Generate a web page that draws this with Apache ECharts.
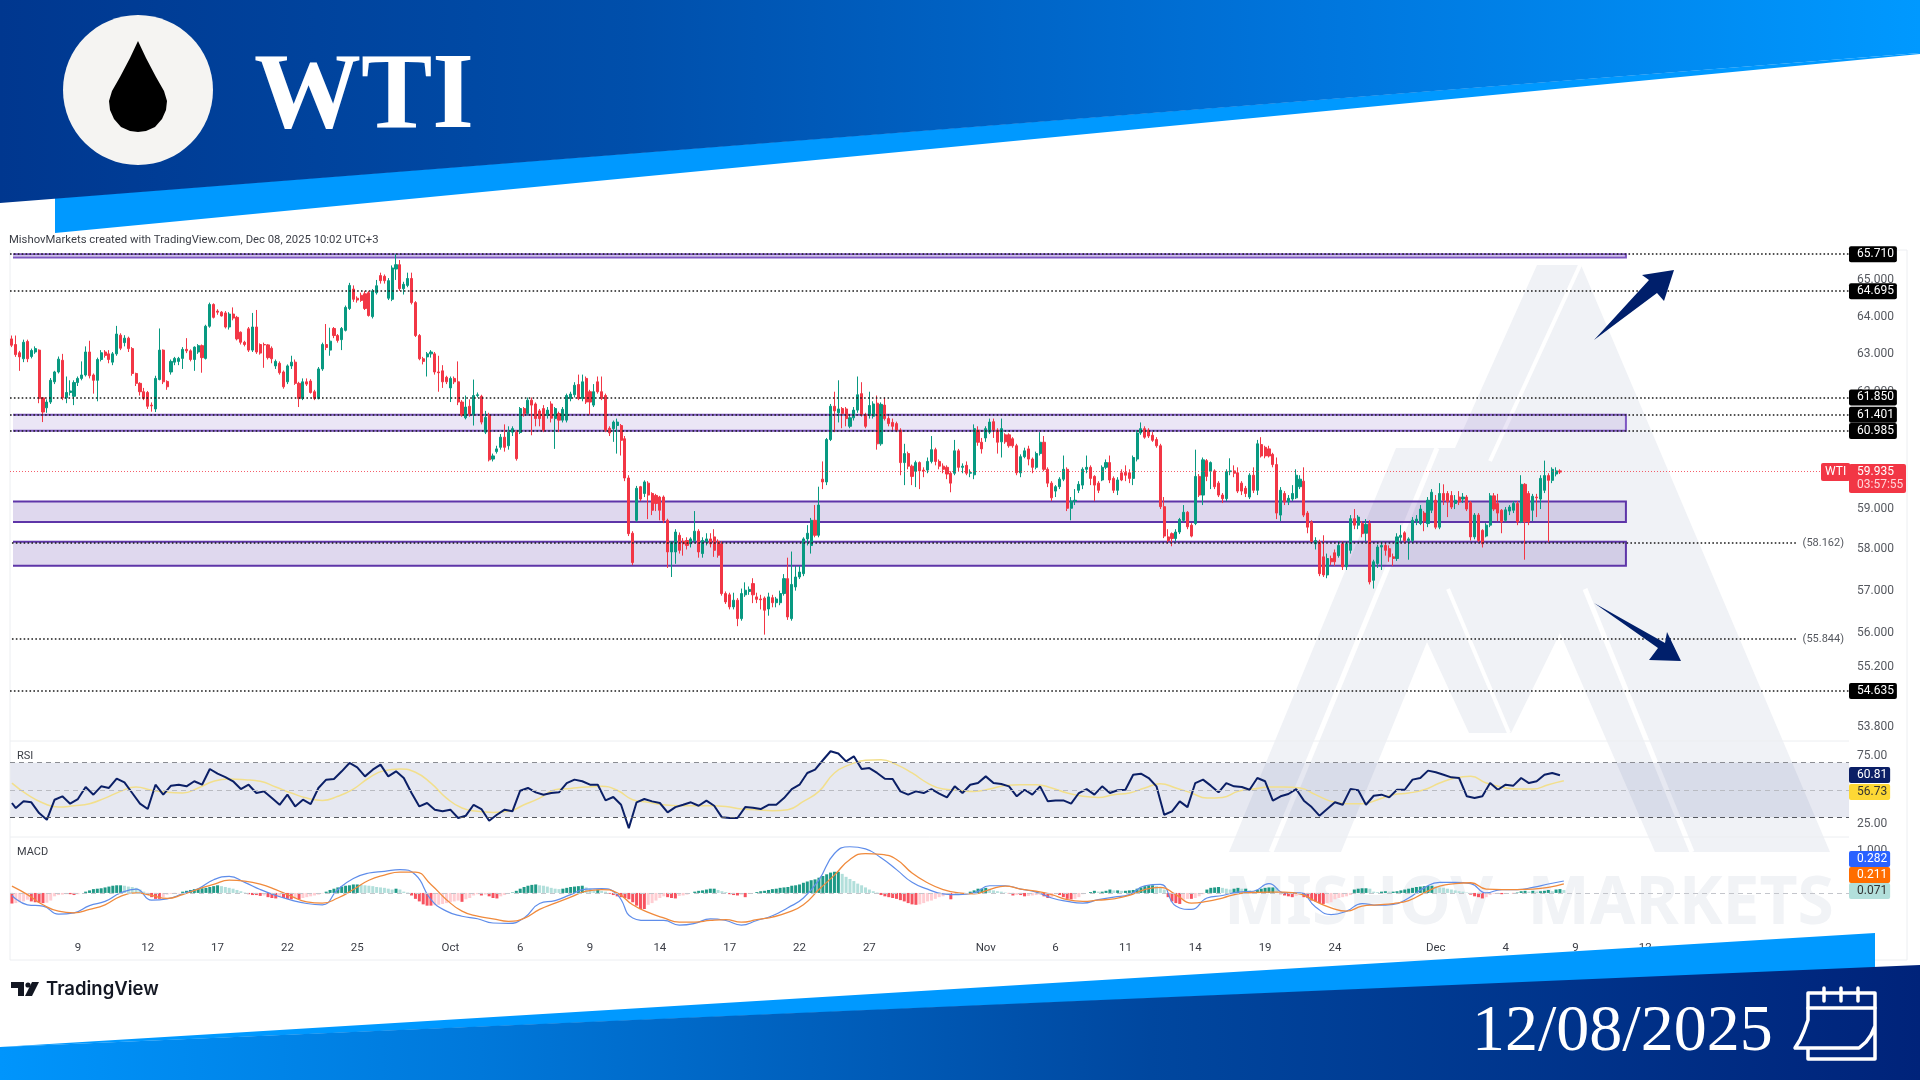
<!DOCTYPE html>
<html lang="en">
<head>
<meta charset="UTF-8">
<title>WTI</title>
<script src="https://cdn.jsdelivr.net/npm/echarts@6/dist/echarts.min.js"></script>
<style>
html,body{margin:0;padding:0;background:#fff}
#chart{width:1920px;height:1080px}
</style>
</head>
<body>
<div id="chart"></div>
<script>
// 4H bars: [open, close, low, high]
const sepBars = [
[63.4,63.23,63.18,63.49],[63.25,62.98,62.92,63.49],[63.03,62.92,62.55,63.08],[62.87,63.31,62.78,63.38],[63.33,62.87,62.78,63.38],[62.93,63.09,62.88,63.14],[63.05,63.14,63.0,63.2],[63.1,61.82,61.7,63.12],[61.84,61.47,61.21,61.86],
[61.58,61.73,61.45,61.8],[61.73,62.3,61.68,62.36],[62.26,62.52,62.2,62.55],[62.52,62.86,62.48,62.93],[62.83,61.84,61.78,63.0],[61.84,61.98,61.7,62.4],[61.98,62.02,61.9,62.3],[61.88,62.24,61.65,62.3],[62.24,62.35,62.15,62.4],[62.35,62.44,62.3,62.8],
[62.44,63.05,62.4,63.2],[63.05,62.42,62.35,63.35],[62.44,62.3,61.95,62.48],[62.3,62.85,61.75,62.9],[62.85,63.03,62.8,63.1],[63.05,62.96,62.9,63.1],[63.0,62.85,62.75,63.1],[62.78,63.0,62.7,63.05],[63.0,63.53,62.95,63.75],[63.5,63.15,63.1,63.55],
[63.3,63.42,63.2,63.5],[63.42,63.14,63.05,63.46],[63.14,62.48,62.42,63.18],[62.48,62.22,62.15,62.5],[62.22,62.0,61.9,62.25],[62.0,61.82,61.78,62.1],[61.98,61.62,61.55,62.02],[61.65,61.63,61.48,61.72],[61.55,62.35,61.47,62.42],[62.32,63.1,62.3,63.68],
[63.1,62.26,62.2,63.12],[62.27,62.13,62.05,62.3],[62.52,62.8,62.45,62.85],[62.78,62.88,62.7,62.92],[62.8,62.88,62.7,62.92],[62.88,63.12,62.6,63.18],[63.12,63.08,63.02,63.42],[63.08,62.85,62.8,63.12],[62.85,63.18,62.55,63.2],[63.05,63.22,63.0,63.26],
[63.22,62.9,62.5,63.25],[62.88,63.74,62.85,63.78],[63.74,64.33,63.7,64.38],[64.33,63.98,63.95,64.36],[64.15,64.12,64.05,64.2],[64.12,64.02,64.0,64.15],[64.1,63.72,63.68,64.15],[63.72,64.07,63.65,64.12],[64.07,63.96,63.9,64.25],[63.98,63.4,63.36,64.02],
[63.58,63.31,63.25,63.6],[63.31,63.25,63.2,63.35],[63.67,63.1,63.05,63.72],[63.1,63.72,63.05,64.1],[63.72,63.05,63.0,64.18],[63.25,63.02,62.98,63.28],[63.25,63.24,62.63,63.3],[63.24,62.9,62.85,63.26],[63.15,62.87,62.75,63.2],[62.68,62.8,62.6,62.85],
[62.75,62.5,62.45,62.8],[62.52,62.13,62.08,62.56],[62.26,62.68,62.2,62.72],[62.68,62.78,62.6,62.95],[62.78,62.22,62.18,62.85],[62.22,61.82,61.6,62.26],[61.82,62.26,61.78,62.35],[62.26,62.2,62.15,62.35],[62.28,61.98,61.95,62.33],[62.0,61.82,61.78,62.05],
[61.82,62.6,61.8,62.65],[62.6,63.25,62.55,63.3],[63.25,63.17,63.1,63.8],[63.1,63.34,62.95,63.7],[63.68,63.49,63.42,63.72],[63.49,63.36,63.3,63.53],[63.38,63.68,63.1,63.72],[63.63,64.25,63.6,64.3],[64.22,64.85,64.18,64.92],[64.75,64.47,64.4,64.85],
[64.5,64.45,64.38,64.55],[64.58,64.44,64.4,64.65],[64.62,64.22,64.18,64.7],[64.65,64.03,64.0,64.7],[64.0,64.7,63.95,64.75],[64.65,64.84,64.6,65.0],[65.12,64.98,64.9,65.2],[65.1,64.98,64.9,65.15],[64.5,64.98,64.45,65.05],[64.47,65.33,64.42,65.4],
[65.3,65.42,65.0,65.71],[65.42,64.76,64.7,65.55],[64.76,64.88,64.6,64.95],[64.85,65.04,64.8,65.2],[65.04,64.38,64.33,65.2],[64.38,63.49,63.45,64.42],[63.49,62.87,62.83,63.53],[62.87,62.8,62.72,62.92],[62.92,63.0,62.4,63.05],[63.0,63.05,62.9,63.1],
[63.0,62.52,62.45,63.05],[62.52,62.5,62.0,62.95],[62.55,62.26,62.1,62.7]
];
const octBars = [
[62.38,62.26,62.2,62.42],[62.1,62.35,61.73,62.4],[62.35,62.26,62.2,62.4],[62.26,61.73,61.65,62.8],[61.73,61.39,61.35,61.78],[61.32,61.6,61.28,61.9],[61.62,61.42,61.35,61.8],[61.4,61.9,61.12,62.32],[61.9,61.92,61.85,61.98],[61.88,61.21,61.15,61.92],
[60.95,61.33,60.9,61.5],[61.39,60.24,60.2,61.45],[60.26,60.34,60.2,60.4],[60.45,60.52,60.4,60.6],[60.56,60.82,60.5,60.9],[60.82,60.56,60.45,61.15],[60.6,60.95,60.5,61.1],[60.95,61.04,60.85,61.1],[60.95,60.27,60.22,61.0],[60.94,61.56,60.9,61.6],
[61.56,61.43,61.35,61.6],[61.43,61.78,61.38,61.85],[61.78,61.65,60.87,61.85],[61.68,61.3,61.1,61.72],[61.5,61.3,61.1,61.55],[61.56,61.0,60.95,61.65],[61.38,61.52,61.3,61.6],[61.68,61.31,61.2,61.75],[61.3,61.56,60.52,61.6],[61.43,61.26,60.95,61.48],
[61.26,61.54,61.2,61.6],[61.26,61.9,61.2,61.95],[61.82,61.94,61.75,62.0],[61.92,62.17,61.85,62.25],[62.19,61.82,61.78,62.45],[61.82,62.26,61.75,62.45],[62.35,61.73,61.68,62.4],[62.0,61.73,61.4,62.05],[61.65,62.0,61.6,62.2],[62.26,62.0,61.95,62.4],
[62.0,61.82,61.78,62.4],[61.9,61.0,60.95,61.95],[61.05,60.93,60.85,61.1],[61.04,61.21,60.7,61.25],[61.12,61.21,60.4,61.3],[61.12,60.74,60.35,61.16],[60.78,59.78,59.7,60.85],[59.78,58.39,58.33,59.85],[58.4,57.68,57.62,58.45],[58.72,59.52,58.68,59.58],
[59.56,59.25,59.2,59.58],[59.39,59.68,59.3,59.72],[59.65,59.35,58.75,59.7],[59.39,58.97,58.85,59.42],[59.34,59.14,58.95,59.38],[59.3,58.97,58.72,59.33],[59.3,58.72,58.65,59.34],[58.72,57.94,57.55,58.76],[57.94,58.18,57.33,58.2],[57.94,58.43,57.65,58.5],
[58.35,57.98,57.9,58.42],[58.2,58.14,57.85,58.28],[58.22,58.1,58.0,58.3],[58.14,58.26,58.05,58.3],[58.22,58.45,58.15,58.95],[58.45,57.94,57.8,58.5],[57.9,58.22,57.8,58.3],[58.2,58.26,58.1,58.4],[58.26,58.14,58.05,58.4],[58.31,57.98,57.82,58.5],
[58.2,57.86,57.8,58.25],[58.14,56.93,56.88,58.2],[56.93,56.73,56.68,56.98],[56.9,56.61,56.55,56.95],[56.61,56.77,56.55,56.95],[56.77,56.33,56.15,56.82],[56.33,56.93,56.28,57.05],[56.9,57.01,56.85,57.2],[56.98,57.03,56.9,57.1],[57.17,56.9,56.7,57.3],
[56.85,56.79,56.7,56.95],[56.8,56.78,56.55,56.9],[56.82,56.53,55.95,56.86],[56.56,56.85,56.4,56.95],[56.83,56.71,56.6,56.9],[56.71,56.8,56.6,56.85],[56.71,56.93,56.65,57.0],[56.93,57.29,56.88,57.4],[57.29,56.37,56.3,57.8],[56.33,57.15,56.28,57.95],
[57.09,57.33,57.0,57.6],[57.33,57.45,57.28,57.6],[57.41,58.26,57.35,58.3],[58.26,58.4,58.1,58.6],[58.1,58.72,57.9,58.78],[58.72,58.35,58.3,59.1],[58.35,59.1,58.3,59.56],[59.75,59.68,59.5,60.2],[59.68,60.76,59.6,60.8],[60.76,61.62,60.72,61.68],
[61.62,61.5,60.95,62.0],[61.45,61.55,61.2,62.3],[61.56,61.43,61.05,61.6],[61.55,61.3,61.1,61.6],[61.1,61.32,61.05,61.4],[61.32,61.52,61.25,61.6],[61.52,61.92,61.45,62.4],[61.95,61.4,61.35,62.25],[61.4,61.1,61.05,61.45],[61.38,61.64,61.3,62.0],
[61.36,61.68,61.3,61.75],[61.7,60.65,60.5,61.9],[60.65,61.67,60.6,61.72],[61.65,61.3,61.25,61.85],[61.3,61.17,61.1,61.36],[61.2,61.1,61.0,61.3],[61.17,61.0,60.95,61.22],[61.0,60.17,59.85,61.05],[60.17,60.4,59.6,60.65],[60.4,60.08,60.0,60.45],
[60.08,59.82,59.6,60.12],[59.95,60.17,59.55,60.22],[60.17,59.96,59.5,60.2],[59.98,59.96,59.8,60.05],[59.98,60.2,59.9,60.3],[60.2,60.5,60.15,60.85],[60.5,60.2,60.1,60.55],[60.2,60.08,60.0,60.25],[60.08,60.0,59.9,60.15],[60.05,59.88,59.75,60.1],
[59.9,59.65,59.42,59.95],[59.9,60.47,59.85,60.75],[60.47,60.05,59.95,60.52],[60.05,60.08,59.9,60.15],[60.1,59.9,59.85,60.2],[59.9,59.92,59.8,60.0],[59.86,61.04,59.75,61.15],[61.0,60.69,60.6,61.1]
];
const novBars = [
[60.69,60.52,60.4,60.8],[60.8,61.04,60.7,61.1],[60.95,61.21,60.9,61.3],[61.22,61.0,60.8,61.3],[61.0,60.69,60.4,61.05],[60.7,61.04,60.3,61.3],[60.88,60.7,60.65,60.92],[60.88,60.6,60.55,60.92],[60.78,60.6,60.55,60.82],[60.6,59.91,59.85,60.65],
[59.91,60.32,59.8,60.38],[60.32,60.47,60.28,60.55],[60.52,60.26,60.1,60.6],[60.26,60.05,59.9,60.3],[60.05,60.4,60.0,60.45],[60.4,60.69,60.35,60.95],[60.69,60.0,59.95,60.85],[60.0,59.65,59.55,60.05],[59.65,59.28,59.2,59.7],[59.45,59.56,59.3,59.6],
[59.56,59.75,59.5,59.8],[59.75,60.0,59.7,60.35],[60.0,59.02,58.95,60.05],[59.02,59.2,58.72,59.3],[59.2,59.22,59.1,59.5],[59.47,59.62,59.4,59.7],[59.6,60.0,59.5,60.05],[60.0,60.05,59.9,60.35],[60.05,59.77,59.6,60.1],[59.82,59.6,59.2,59.85],
[59.65,59.47,59.4,59.7],[59.73,60.05,59.7,60.1],[60.05,60.17,60.0,60.25],[60.17,59.73,59.65,60.35],[59.77,59.47,59.4,59.82],[59.47,59.73,59.35,59.8],[59.91,59.73,59.7,60.0],[59.92,59.85,59.7,60.1],[59.91,59.77,59.65,60.0],[59.77,60.3,59.6,60.35],
[60.26,60.93,60.2,61.0],[60.93,61.04,60.88,61.2],[61.04,60.82,60.78,61.1],[61.0,60.85,60.8,61.05],[60.87,60.74,60.7,60.95],[60.76,60.6,60.55,60.82],[60.6,59.06,59.0,60.65],[59.06,58.33,58.28,59.3],[58.31,58.22,58.15,58.5],[58.39,58.27,58.08,58.42],
[58.27,58.43,58.2,58.5],[58.43,58.74,58.38,58.78],[58.72,58.92,58.68,59.1],[58.92,58.56,58.5,58.95],[58.6,58.33,58.3,58.65],[58.64,59.82,58.6,60.5],[59.82,59.35,59.3,59.88],[59.35,60.24,59.1,60.3],[60.22,59.82,59.7,60.26],[59.95,60.17,59.5,60.2],
[59.96,59.56,59.5,60.0],[59.65,59.35,59.3,59.7],[59.35,59.26,59.15,59.4],[59.26,59.94,59.2,60.0],[59.94,59.96,59.85,60.28],[59.96,59.9,59.8,60.1],[59.91,59.45,59.4,60.05],[59.65,59.45,59.35,59.7],[59.52,59.39,59.3,59.58],[59.3,59.85,59.25,59.9],
[59.85,59.47,59.4,60.05],[59.47,60.65,59.35,60.75],[60.63,60.34,60.3,60.82],[60.56,60.34,60.28,60.6],[60.52,60.34,60.3,60.6],[60.38,60.12,60.05,60.42],[60.12,58.9,58.75,60.3],[58.85,59.47,58.7,59.55],[59.39,59.18,59.1,59.45],[59.18,59.27,59.1,59.35],[59.25,59.39,59.2,59.6],
[59.28,59.85,59.25,60.0],[59.56,59.75,59.5,59.85],[59.7,58.85,58.8,60.05],[58.9,58.55,58.4,58.95],[58.68,58.2,58.15,58.72],[58.14,58.22,58.0,58.3],[58.19,57.41,57.35,58.24],[57.82,57.38,57.33,58.35],[57.38,57.78,57.3,57.9],[57.78,57.7,57.62,57.85],
[57.92,57.7,57.6,58.0],[57.85,58.1,57.8,58.2],[58.14,57.58,57.5,58.2],[57.58,58.14,57.5,58.2],[57.98,58.76,57.9,58.85],[58.76,58.6,58.5,59.0],[58.6,58.8,58.5,58.85],[58.64,58.39,58.3,58.7],[58.4,58.62,58.2,58.75],[58.64,57.21,57.15,58.72],
[57.25,57.7,57.05,57.75],[57.66,58.06,57.55,58.12],[58.06,58.1,57.5,58.2],[58.1,57.98,57.85,58.15],[58.02,57.82,57.7,58.1],[57.82,57.78,57.6,57.9],[57.78,58.31,57.72,58.4],[58.3,58.35,58.2,58.6],[58.41,58.22,58.15,58.45],[58.22,58.26,57.75,58.3],
[58.22,58.72,58.15,58.8],[58.7,58.75,58.6,58.85],[58.64,59.0,58.6,59.1],[58.9,58.7,58.45,58.95],[58.64,59.22,58.55,59.3],[58.97,59.42,58.9,59.5]
];
const decBars = [
[59.22,58.55,58.5,59.35],[58.55,59.39,58.5,59.65],[59.39,59.22,59.1,59.62],[59.39,59.18,58.8,59.45],[59.34,59.05,59.0,59.45],[59.14,59.22,59.0,59.35],[59.3,59.18,59.1,59.45],[59.25,59.3,59.15,59.4],[59.3,59.0,58.95,59.35],[59.16,58.31,58.22,59.2],
[58.31,58.85,58.25,58.9],[58.85,58.22,58.18,58.9],[58.47,58.14,58.05,58.5],[58.33,58.6,58.3,58.65],[58.6,59.33,58.55,59.4],[59.33,59.0,58.95,59.4],[59.14,58.9,58.7,59.38],[58.97,58.68,58.4,59.0],[58.72,58.98,58.68,59.05],[58.95,59.05,58.85,59.1],
[58.97,59.14,58.9,59.2],[59.14,58.68,58.6,59.2],[58.68,59.62,58.65,59.85],[59.62,58.68,57.75,59.65],[59.39,58.68,58.6,59.45],[58.97,59.32,58.7,59.38],[59.3,59.28,58.8,59.38],[59.25,59.77,59.0,59.85],[59.47,59.84,59.4,60.22],[59.84,59.72,58.18,59.9],
[59.72,60.0,59.65,60.05],[59.88,59.96,59.82,60.05],[59.96,59.93,59.88,60.0]
];

// price panel: tick labels, horizontal levels, boxes
const priceTicks = [65, 64, 63, 62, 59, 58, 57, 56, 55.2, 53.8];
const blackLevels = [65.71, 64.695, 61.85, 61.401, 60.985, 54.635];
const openLevels = [58.162, 55.844];
const lastPrice = 59.935;
const lightZones = [[65.71, 65.62], [61.401, 60.985]];
const darkZones = [[59.19, 58.68], [58.19, 57.6]];

// RSI, one reading every 2 bars
const rsiValues = [
40.5,36.8,41.7,41,33.1,28.2,42.9,45.4,40,43.4,52.2,46.6,52.7,51.5,58.3,55.6,47.8,40,36.1,53.9,46.6,53.2,53.9,52.7,56.4,53.9,65.4,62,59.5,56.4,50.7,53.9,47.8,49,44.1,39.2,46.6,38,42.9,39.7,51.5,57.6,58.1,63.7,69.8,66.6,60,64.9,68.6,60,63.7,58.8,47.8,38,40.5,35.6,34.4,35.6,29.5,31.2,39.2,36.1,27.5,31.9,35.6,34.4,49.5,51.5,48.3,46.6,47.8,48.3,55.1,57.6,56.4,53.9,53.9,42.4,44.9,39.2,22.1,41,
43.4,41.7,40.5,33.6,37.5,39.2,41,38.5,42.2,38.5,30,29.5,29.5,37.5,37,36.1,39.2,39.2,44.1,50.7,53.9,62.5,64.9,71.8,78.4,76.7,71,74.7,65.4,66.1,62.5,58.3,58.1,49,46.6,49,47.8,50.7,47.3,44.6,52.7,47.8,53.9,55.1,60,55.1,54.4,52.7,45.4,50.2,46.6,52.7,41.7,42.4,42.4,40,47.8,50.7,46.6,52.7,47.8,49.8,50.2,61.2,62,58.8,52.7,31.9,34.4,41.7,37.5,55.1,57.6,53.2,48.3,55.1,52.7,52.2,50.2,58.8,56.4,
42.2,45.4,47.1,50.7,42.2,37.5,31.2,36.1,41,39.2,50.7,49.8,39.2,45.8,46.6,44.6,50.2,50.2,57.6,58.8,64.2,63,61.2,59.3,58.8,45.4,44.1,45.4,55.1,50.2,53.9,53.2,58.8,55.1,56.4,61.2,62.5,60.81
];
// RSI average, one reading every 4 bars
const rsiAverage = [
55.1,46.6,40.5,37.5,38.5,40,44.1,49,52.2,49.8,48.3,47.8,51.5,56.4,58.1,57.6,56.4,52.2,47.8,44.1,42.4,45.4,50.7,58.8,64.2,65.4,63,55.1,44.1,36.8,34.4,33.6,34.4,39.2,44.1,50.2,51.2,52.2,52.7,49.8,42.9,
41,39.2,38.5,38.5,38.5,38,36.1,35.6,34.8,35.6,41.7,49,62.5,68.6,71.8,72.2,68.6,62.5,55.1,50.7,49.8,49,50.7,53.4,53.9,53.9,51.5,47.8,45.4,44.6,46.6,47.8,51.5,54.6,51.5,47.8,44.1,44.6,49,50.7,52.2,
52.2,51.5,46.6,41.7,40,40,42.9,46.6,47.8,50.2,55.1,58.8,60,55.1,52.2,50.7,50.7,53.9,56.73
];
// MACD and signal, one reading every 4 bars
const macdLine = [
-.06,-.28,-.31,-.5,-.47,-.3,-.2,0,.09,-.17,-.14,-.02,.1,.31,.39,.25,.08,-.06,-.17,-.25,-.28,.08,.34,.47,.51,.55,.43,-.16,-.43,-.55,-.61,-.71,-.72,-.59,-.25,-.18,-.04,.09,.1,-.04,-.59,
-.65,-.65,-.76,-.72,-.61,-.65,-.76,-.65,-.54,-.35,-.12,.31,.93,1.09,1.04,.83,.55,.25,.09,-.02,-.04,0,.17,.17,.09,.02,-.12,-.2,-.24,-.16,-.1,-.04,.17,.2,-.31,-.39,-.12,-.06,.02,.04,.22,
0,0,-.33,-.51,-.43,-.25,-.29,-.27,-.12,.12,.25,.25,.22,0,.08,.08,.13,.21,.282
];
const macdSignal = [
.16,-.04,-.28,-.43,-.47,-.39,-.28,-.08,0,-.06,-.13,-.04,.09,.2,.3,.28,.21,.08,-.08,-.21,-.24,-.12,.08,.3,.42,.49,.49,.2,-.16,-.43,-.55,-.61,-.67,-.6,-.39,-.24,-.1,.04,.08,0,-.28,
-.46,-.59,-.69,-.69,-.65,-.63,-.69,-.63,-.57,-.46,-.28,.08,.42,.79,.93,.91,.79,.47,.24,.08,0,-.02,.08,.16,.09,.04,-.04,-.16,-.2,-.17,-.14,-.06,.08,.13,-.04,-.24,-.2,-.12,-.02,.01,.02,
.02,-.02,-.2,-.35,-.43,-.31,-.28,-.25,-.18,0,.16,.22,.24,.09,.08,.08,.09,.13,.211
];
// MACD histogram, one per bar
const macdHist = [
-.25,-.24,-.22,-.2,-.16,-.2,-.22,-.23,-.24,-.23,-.18,-.08,-.05,-.04,-.03,-.03,-.05,-.03,0,.03,.06,.09,.1,.11,.13,.15,.17,.18,.18,.17,.15,.14,.12,.08,.03,-.05,-.1,-.14,-.14,-.1,-.04,-.02,-.02,-.01,.03,.05,.07,.09,.1,.11,.12,.14,.16,.18,.16,.14,.12,.1,.07,.04,.01,-.03,-.05,-.05,-.07,-.06,-.1,-.12,-.13,-.1,-.12,-.14,-.15,-.13,-.15,-.12,-.1,-.08,-.06,-.04,-.01,.03,.07,.1,.13,.15,.17,.18,.2,.2,.19,.18,.17,.16,.14,.13,.12,.1,.08,.1,.08,.03,.01,-.06,-.14,-.2,-.27,-.3,-.3,-.29,-.28,-.26,-.24,-.22,-.2,-.18,-.21,-.15,-.12,-.06,-.03,-.06,-.04,-.08,-.12,-.13,-.08,-.05,-.02,.01,.05,.1,.14,.17,.19,.2,.18,.17,.15,.12,.1,.09,.1,.12,.14,.15,.16,.17,.13,.1,.06,.08,.05,.03,-.02,-.05,-.08,-.1,-.12,-.15,-.22,-.3,-.38,-.38,
-.28,-.24,-.18,-.12,-.08,-.1,-.12,-.13,-.07,-.06,-.04,0,.03,.05,.06,.08,.1,.1,.07,.04,.02,-.03,-.05,-.06,-.04,-.1,-.02,0,.02,.04,.05,.07,.09,.1,.12,.13,.14,.17,.18,.2,.24,.27,.3,.32,.36,.4,.44,.48,.5,.5,.45,.38,.33,.28,.22,.18,.13,.08,.04,.01,-.05,-.08,-.1,-.12,-.14,-.17,-.2,-.24,-.27,-.28,-.27,-.24,-.2,-.18,-.14,-.1,-.08,-.05,-.15,-.03,-.02,-.01,0,.03,.06,.1,.1,.12,.1,.06,.04,.03,.01,-.01,-.06,-.05,-.05,-.08,-.07,-.06,-.05,-.04,-.08,-.12,-.1,-.03,-.05,-.1,-.14,-.15,-.14,-.1,-.03,0,.02,.05,.03,.03,.05,.08,.06,.06,.05,.05,.06,.07,.1,.13,.16,.18,.18,.16,.14,.08,-.1,-.2,-.24,-.26,-.16,-.14,-.14,-.12,-.08,-.03,.08,.12,.13,.14,.12,.1,.08,.1,.12,.1,.1,.06,.04,.07,.1,.12,.13,.13,.12,-.03,
-.06,-.08,-.1,-.07,-.05,-.1,-.12,-.18,-.2,-.24,-.26,-.24,-.22,-.15,-.12,-.1,-.08,-.05,.08,.1,.11,.11,.1,.03,.02,.03,.04,.03,.03,.04,.06,.08,.1,.12,.14,.15,.16,.17,.17,.15,.13,.12,.1,.08,.06,.04,.03,.01,-.04,-.08,-.1,-.13,-.1,-.05,-.02,-.02,-.03,-.02,0,-.01,.01,.04,.05,.03,.05,.03,.04,.05,.07,.04,.08,.09,.07
];

// time axis
const tickIndex = [17, 35, 53, 71, 89, 113, 131, 149, 167, 185, 203, 221, 251, 269, 287, 305, 323, 341, 367, 385, 403, 421];
const tickLabels = ['9', '12', '17', '22', '25', 'Oct', '6', '9', '14', '17', '22', '27', 'Nov', '6', '11', '14', '19', '24', 'Dec', '4', '9', '12'];
const SLOTS = 474;

const bars = sepBars.concat(octBars, novBars, decBars);
const categories = [];
for (let i = 0; i < SLOTS; i++) {
    const k = tickIndex.indexOf(i);
    categories.push(k >= 0 ? tickLabels[k] : '');
}
const everyFour = arr => arr.map((v, i) => [i * 4, v]);
const everyTwo = arr => arr.map((v, i) => [Math.max(0, i * 2 - 1), v]);

const UP = '#089981', DOWN = '#f23645';
const TEXT = '#3a3d45';
const FONT = 'Roboto';
const LEVEL_LINE = {color: '#1a1a1a', width: 1.6, type: [1.6, 2.3]};

function histColor(p) {
    const v = macdHist[p.dataIndex], prev = macdHist[p.dataIndex - 1] || 0;
    if (v >= 0) return v >= prev ? '#1f9a87' : '#b2dfdb';
    return v <= prev ? '#f7525f' : '#ffcdd2';
}

// labels of the right-hand scale, drawn through the axis of each panel
function scaleLabels(values, digits) {
    return values.map(v => ({
        name: v.toFixed(digits), yAxis: v,
        lineStyle: {color: 'rgba(0,0,0,0)', width: 0},
        label: {position: 'end', distance: 8, formatter: '{b}', color: '#55585f', fontFamily: FONT, fontSize: 12, padding: [2, 0, 0, 0]}
    }));
}
function blackLevel(v) {
    return {
        name: v.toFixed(3), yAxis: v,
        lineStyle: LEVEL_LINE,
        label: {position: 'end', distance: 0, formatter: '{b}', color: '#fff', backgroundColor: '#000', fontFamily: FONT, fontSize: 12, padding: [3, 3, 1, 8], borderRadius: 2}
    };
}
function openLevel(v) {
    return [
        {name: '(' + v.toFixed(3) + ')', xAxis: 0, yAxis: v, lineStyle: LEVEL_LINE,
            label: {position: 'end', distance: 6, formatter: '{b}', color: '#55585f', fontFamily: FONT, fontSize: 11, padding: [2, 0, 0, 0]}},
        {xAxis: 460, yAxis: v}
    ];
}
function zone(z, fill, edge, w) {
    return [
        {yAxis: z[0], xAxis: 0, itemStyle: {color: fill, borderColor: edge, borderWidth: w}},
        {yAxis: z[1], xAxis: 416}
    ];
}
function tag(x, y, text, fill, color, z) {
    return {
        type: 'text', x: x, y: y, z: z || 60,
        style: {text: text, font: '12px ' + FONT, fill: color, backgroundColor: fill, padding: [2, 3, 2, 8], borderRadius: 2, verticalAlign: 'middle'}
    };
}
function whiteSlash(x1, y1, x2, y2, w) {
    return {type: 'line', z: 0, shape: {x1, y1, x2, y2}, style: {stroke: '#fff', lineWidth: w}};
}
function rule(x1, y1, x2, y2) {
    return {type: 'line', z: 2, shape: {x1, y1, x2, y2}, style: {stroke: '#eceef1', lineWidth: 1}};
}
function calendarLine(points) {
    return {type: 'polyline', z: 73, shape: {points: points}, style: {fill: 'none', stroke: '#fff', lineWidth: 3.5, lineCap: 'round', lineJoin: 'round'}};
}

const graphics = [
    // watermark under the chart
    {type: 'polygon', z: 0, shape: {points: [[1229,852],[1396,448],[1455,448],[1537,265],[1581,265],[1830,852],[1655,852],[1560,633],[1511,733],[1469,733],[1427,642],[1341,852]]}, style: {fill: '#f0f2f6'}},
    whiteSlash(1271, 852, 1437, 448, 5),
    whiteSlash(1581, 263, 1490, 461, 4),
    whiteSlash(1448, 589, 1509, 733, 4),
    whiteSlash(1585, 589, 1692, 852, 5),
    {type: 'text', z: 0, x: 1224, y: 905, style: {text: 'MISHOV  MARKETS', font: 'bold 66px "Noto Sans"', fill: '#f1f3f6', verticalAlign: 'middle'}},
    // the zones run off the left edge of the pane, so no end stroke there
    {type: 'rect', z: 1.5, shape: {x: 7, y: 250, width: 6, height: 320}, style: {fill: '#fff'}},
    // panel rules
    rule(10, 741, 1849, 741), rule(10, 837, 1849, 837), rule(10, 250, 10, 960), rule(10, 960, 1907, 960), rule(1907, 250, 1907, 960), rule(1849, 250, 1907, 250),
    {type: 'text', z: 10, x: 9, y: 240, style: {text: 'MishovMarkets created with TradingView.com, Dec 08, 2025 10:02 UTC+3', font: '11.3px ' + FONT, fill: '#3a3d45', verticalAlign: 'middle'}},
    {type: 'text', z: 10, x: 17, y: 756, style: {text: 'RSI', font: '11px ' + FONT, fill: TEXT, verticalAlign: 'middle'}},
    {type: 'text', z: 10, x: 17, y: 852, style: {text: 'MACD', font: '11px ' + FONT, fill: TEXT, verticalAlign: 'middle'}},
    // arrows
    {type: 'polygon', z: 50, shape: {points: [[1594,340],[1649,280],[1642,275],[1674,270],[1664,301],[1657,293]]}, style: {fill: '#001f6b'}},
    {type: 'polygon', z: 50, shape: {points: [[1594,603],[1665,643],[1667,632],[1681,661],[1649,660],[1658,648]]}, style: {fill: '#001f6b'}},
    // current price tags and panel value tags
    {type: 'text', z: 60, x: 1821, y: 472, style: {text: 'WTI', font: '12px ' + FONT, fill: '#fff', backgroundColor: DOWN, padding: [3, 4, 3, 4], borderRadius: 2, verticalAlign: 'middle'}},
    {type: 'rect', z: 60, shape: {x: 1849, y: 464, width: 57, height: 29, r: 2}, style: {fill: DOWN}},
    {type: 'text', z: 61, x: 1857, y: 472, style: {text: lastPrice.toFixed(3), font: '12px ' + FONT, fill: '#fff', verticalAlign: 'middle'}},
    {type: 'text', z: 61, x: 1857, y: 485, style: {text: '03:57:55', font: '12px ' + FONT, fill: '#ffd5d9', verticalAlign: 'middle'}},
    tag(1849, 775, '60.81', '#0b1f66', '#fff'),
    tag(1849, 792, '56.73', '#fdd835', '#333'),
    tag(1849, 859, '0.282', '#2962ff', '#fff'),
    tag(1849, 875, '0.211', '#ff6d00', '#fff'),
    tag(1849, 891, '0.071', '#b2dfdb', '#333'),
    // TradingView mark
    {type: 'polygon', z: 10, shape: {points: [[11,982],[24,982],[24,996],[18,996],[18,988],[11,988]]}, style: {fill: '#131722'}},
    {type: 'polygon', z: 10, shape: {points: [[32,982],[39,982],[32,996],[25,996]]}, style: {fill: '#131722'}},
    {type: 'circle', z: 10, shape: {cx: 28, cy: 985, r: 2.6}, style: {fill: '#131722'}},
    {type: 'text', z: 10, x: 46, y: 989, style: {text: 'TradingView', font: '600 18.5px Inter', fill: '#131722', verticalAlign: 'middle'}},
    // top banner
    {type: 'polygon', z: 70, shape: {points: [[55,198],[1920,53],[1920,54],[55,233]]}, style: {fill: '#0099ff'}},
    {type: 'polygon', z: 71, shape: {points: [[0,0],[1920,0],[1920,53],[0,203]]}, style: {fill: {type: 'linear', x: 0, y: 0, x2: 1, y2: 0, colorStops: [{offset: 0, color: '#00378f'}, {offset: 0.33, color: '#004fab'}, {offset: 0.68, color: '#0075dc'}, {offset: 1, color: '#0099ff'}]}}},
    {type: 'ellipse', z: 72, shape: {cx: 138, cy: 90, rx: 75, ry: 75}, style: {fill: '#f5f4f2'}},
    {type: 'polygon', z: 73, shape: {points: [[138,41],[130,58],[120,77],[112,91],[109,101],[110,110],[114,119],[121,127],[130,131],[138,132],[146,131],[155,127],[162,119],[166,110],[167,101],[164,91],[156,77],[146,58]]}, style: {fill: '#000'}},
    {type: 'text', z: 73, x: 254, y: 99, style: {text: 'WTI', font: 'bold 107px "Liberation Serif"', fill: '#fff', verticalAlign: 'middle'}},
    // bottom banner
    {type: 'polygon', z: 70, shape: {points: [[0,1047],[1875,933],[1875,968]]}, style: {fill: '#0099ff'}},
    {type: 'polygon', z: 71, shape: {points: [[0,1047],[1920,965],[1920,1080],[0,1080]]}, style: {fill: {type: 'linear', x: 0, y: 0, x2: 1, y2: 0, colorStops: [{offset: 0, color: '#0095fc'}, {offset: 0.25, color: '#0078da'}, {offset: 0.6, color: '#00479f'}, {offset: 1, color: '#00237a'}]}}},
    {type: 'text', z: 73, x: 1472, y: 1033, style: {text: '12/08/2025', font: '66px "Liberation Serif"', fill: '#fff', verticalAlign: 'middle'}},
    calendarLine([[1808,1048],[1808,1059],[1875,1059],[1875,993],[1808,993],[1808,1020],[1804,1031],[1800,1040],[1795,1048],[1859,1048],[1866,1042],[1871,1035],[1875,1026]]),
    calendarLine([[1808,1008],[1875,1008]]),
    calendarLine([[1824,988],[1824,1001]]),
    calendarLine([[1841,988],[1841,1001]]),
    calendarLine([[1858,988],[1858,1001]])
];

const option = {
    backgroundColor: '#fff',
    animation: false,
    textStyle: {fontFamily: FONT},
    grid: [
        {left: 10, right: 71, top: 251, height: 490},
        {left: 10, right: 71, top: 741, height: 96},
        {left: 10, right: 71, top: 837, height: 100}
    ],
    xAxis: [0, 1, 2].map(g => ({
        type: 'category', gridIndex: g, data: categories, boundaryGap: true,
        axisLine: {show: false}, axisTick: {show: false}, splitLine: {show: false},
        axisLabel: g === 2
            ? {show: true, interval: 0, margin: 5, color: TEXT, fontFamily: FONT, fontSize: 11.5, hideOverlap: false}
            : {show: false}
    })),
    yAxis: [
        {type: 'log', logBase: Math.E, gridIndex: 0, min: 53.49, max: 65.8, axisLine: {show: false}, axisTick: {show: false}, axisLabel: {show: false}, splitLine: {show: false}},
        {type: 'value', gridIndex: 1, min: 15.6, max: 85.9, axisLine: {show: false}, axisTick: {show: false}, axisLabel: {show: false}, splitLine: {show: false}},
        {type: 'value', gridIndex: 2, min: -1.04, max: 1.32, axisLine: {show: false}, axisTick: {show: false}, axisLabel: {show: false}, splitLine: {show: false}}
    ],
    series: [
        {
            type: 'candlestick', name: 'WTI', xAxisIndex: 0, yAxisIndex: 0, data: bars, barWidth: 2.6, clip: false,
            itemStyle: {color: UP, color0: DOWN, borderColor: UP, borderColor0: DOWN, borderWidth: 1},
            markArea: {
                silent: true,
                data: lightZones.map(z => zone(z, 'rgba(103,58,183,0.13)', '#7e57c2', 2)).concat(darkZones.map(z => zone(z, 'rgba(80,40,160,0.18)', '#5e35a8', 2)))
            },
            markLine: {
                silent: true, symbol: 'none', animation: false,
                data: scaleLabels(priceTicks, 3).concat(
                    [{yAxis: lastPrice, lineStyle: {color: DOWN, width: 0.8, type: [1, 2]}, label: {show: false}}],
                    openLevels.map(openLevel),
                    blackLevels.map(blackLevel)
                )
            }
        },
        {
            type: 'line', name: 'RSI', xAxisIndex: 1, yAxisIndex: 1, data: everyTwo(rsiValues), showSymbol: false, lineStyle: {color: '#0b1f66', width: 2},
            markArea: {silent: true, data: [[{yAxis: 70, itemStyle: {color: 'rgba(30,45,130,0.11)'}}, {yAxis: 30}]]},
            markLine: {
                silent: true, symbol: 'none', animation: false,
                data: scaleLabels([75, 25], 2).concat([
                    {yAxis: 70, lineStyle: {color: '#8b8d93', width: 1.2, type: [5, 4]}, label: {show: false}},
                    {yAxis: 50, lineStyle: {color: '#b9bbc2', width: 1, type: [5, 4]}, label: {show: false}},
                    {yAxis: 30, lineStyle: {color: '#55585f', width: 1.2, type: [5, 4]}, label: {show: false}}
                ])
            }
        },
        {type: 'line', name: 'RSI MA', xAxisIndex: 1, yAxisIndex: 1, data: everyFour(rsiAverage), smooth: true, showSymbol: false, z: 1, lineStyle: {color: '#f2df8c', width: 1.5}},
        {
            type: 'bar', name: 'Hist', xAxisIndex: 2, yAxisIndex: 2, data: macdHist, barWidth: 3,
            itemStyle: {color: histColor},
            markLine: {
                silent: true, symbol: 'none', animation: false,
                data: scaleLabels([1], 3).concat([{yAxis: 0, lineStyle: {color: '#c4c6cc', width: 1, type: [5, 4]}, label: {show: false}}])
            }
        },
        {type: 'line', name: 'MACD', xAxisIndex: 2, yAxisIndex: 2, data: everyFour(macdLine), smooth: true, showSymbol: false, lineStyle: {color: '#5f8dea', width: 1.2}},
        {type: 'line', name: 'Signal', xAxisIndex: 2, yAxisIndex: 2, data: everyFour(macdSignal), smooth: true, showSymbol: false, lineStyle: {color: '#f08a3c', width: 1.3}}
    ],
    graphic: {elements: graphics}
};

echarts.init(document.getElementById('chart'), null, {renderer: 'canvas'}).setOption(option);
</script>
</body>
</html>
